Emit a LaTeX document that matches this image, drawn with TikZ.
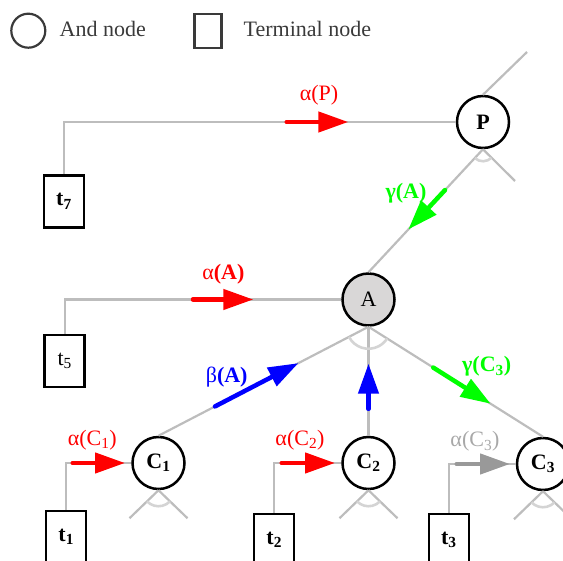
\documentclass[tikz,border=0pt]{standalone}
\usepackage{fontspec}
\setmainfont{Liberation Serif}
\usetikzlibrary{arrows.meta,calc}
\definecolor{linegray}{HTML}{BDBDBD}
\definecolor{arcgray}{HTML}{D4D4D4}
\definecolor{legendgray}{HTML}{3A3A3A}
\definecolor{agray}{HTML}{D9D7D7}
\definecolor{arrgray}{HTML}{999999}
\definecolor{lblgray}{HTML}{A8A8A8}
\definecolor{myred}{HTML}{FF0000}
\definecolor{myblue}{HTML}{0000FF}
\definecolor{mygreen}{HTML}{00FF00}
\begin{document}
\begin{tikzpicture}[x=1pt,y=1pt,
  every node/.style={font=\fontsize{22}{26}\selectfont},
  andnode/.style={circle,draw=black,line width=2.5pt,minimum size=52pt,inner sep=0pt},
  termnode/.style={rectangle,draw=black,line width=2.5pt,minimum width=40pt,minimum height=52pt,inner sep=0pt},
  conn/.style={draw=linegray,line width=2.2pt},
  anglemark/.style={draw=arcgray,line width=2.6pt},
  flow/.style={line width=4.5pt,line cap=round,-{Triangle[length=30pt,width=20pt]}},
  lbl/.style={inner sep=0pt},
]
\useasboundingbox (0,0) rectangle (563,-561);
\clip (0,0) rectangle (563,-561);

% legend
\node[circle,draw=legendgray,line width=2.2pt,minimum size=34pt,inner sep=0pt] (lgand) at (28.3,-30.7) {};
\node[lbl,anchor=west,text=legendgray] (lgandtxt) at (59.5,-29) {And node};
\node[rectangle,draw=legendgray,line width=2.2pt,minimum width=27pt,minimum height=34pt,inner sep=0pt] (lgterm) at (208,-30.8) {};
\node[lbl,anchor=west,text=legendgray] (lgtermtxt) at (243.5,-29) {Terminal node};

% nodes
\node[andnode] (P) at (483,-122) {\textbf{P}};
\node[andnode,fill=agray] (A) at (368.5,-299.5) {A};
\node[andnode] (C1) at (158.5,-463) {\textbf{C\textsubscript{1}}};
\node[andnode] (C2) at (368.5,-463) {\textbf{C\textsubscript{2}}};
\node[andnode] (C3) at (543,-464) {\textbf{C\textsubscript{3}}};
\node[termnode] (t7) at (64,-201.3) {\textbf{t\textsubscript{7}}};
\node[termnode] (t5) at (64.7,-361.2) {t\textsubscript{5}};
\node[termnode] (t1) at (66.2,-537) {\textbf{t\textsubscript{1}}};
\node[termnode] (t2) at (274.2,-540) {\textbf{t\textsubscript{2}}};
\node[termnode] (t3) at (448.8,-540) {\textbf{t\textsubscript{3}}};

% connectors
\coordinate (Pup) at (527,-52);
\coordinate (Pdr) at (515,-181);
\draw[conn] (t7.north) |- (P.west);
\draw[conn] (t5.north) |- (A.west);
\draw[conn] (t1.north) |- (C1.west);
\draw[conn] (t2.north) |- (C2.west);
\draw[conn] (t3.north) |- (C3.west);
\draw[conn] (P.north) -- (Pup);
\draw[conn] (P.south) -- (Pdr);
\draw[conn] (P.south) -- (A.north);
\draw[conn] (A.south) -- (C1.north);
\draw[conn] (A.south) -- (C2.north);
\draw[conn] (A.south) -- (C3.north);
\foreach \c in {C1,C2,C3}{
  \draw[conn] (\c.south) -- ++(-29,-28);
  \draw[conn] (\c.south) -- ++(29,-28);
  \draw[anglemark] ($(\c.south)+(224:16)$) arc[start angle=224,end angle=316,radius=16];
}
\draw[anglemark] ($(P.south)+(227.4:12)$) arc[start angle=227.4,end angle=314.6,radius=12];
\draw[anglemark] ($(A.south)+(207.4:22)$) arc[start angle=207.4,end angle=327.8,radius=22];

% flow arrows
\draw[flow,myred] (286.7,-122) -- (348.3,-122);
\draw[flow,myred] (193,-299.5) -- (253.3,-299.5);
\draw[flow,myred] (72.7,-463) -- (125,-463);
\draw[flow,myred] (281.7,-463) -- (335,-463);
\draw[flow,arrgray] (456.7,-464) -- (510,-464);
\draw[flow,myblue] ($(C1.north)!0.269!(A.south)$) -- ($(C1.north)!0.666!(A.south)$);
\draw[flow,myblue] ($(C2.north)!0.247!(A.south)$) -- ($(C2.north)!0.661!(A.south)$);
\draw[flow,mygreen] ($(A.south)!0.371!(C3.north)$) -- ($(A.south)!0.700!(C3.north)$);
\draw[flow,mygreen] ($(P.south)!0.332!(A.north)$) -- ($(P.south)!0.652!(A.north)$);

% labels
\node[lbl,text=myred] (lP) at (319,-95) {α(P)};
\node[lbl,text=myred] (lA) at (223.3,-274) {α\textbf{(A)}};
\node[lbl,text=myblue] (lbA) at (226.7,-376.7) {β\textbf{(A)}};
\node[lbl,text=mygreen] (lgA) at (406,-193) {\textbf{γ(A)}};
\node[lbl,text=mygreen] (lgC3) at (486.7,-366.7) {\textbf{γ(C\textsubscript{3})}};
\node[lbl,text=myred] (lC1) at (92.3,-440) {α(C\textsubscript{1})};
\node[lbl,text=myred] (lC2) at (300,-440) {α(C\textsubscript{2})};
\node[lbl,text=lblgray] (lC3) at (475,-441.7) {α(C\textsubscript{3})};
\end{tikzpicture}
\end{document}
